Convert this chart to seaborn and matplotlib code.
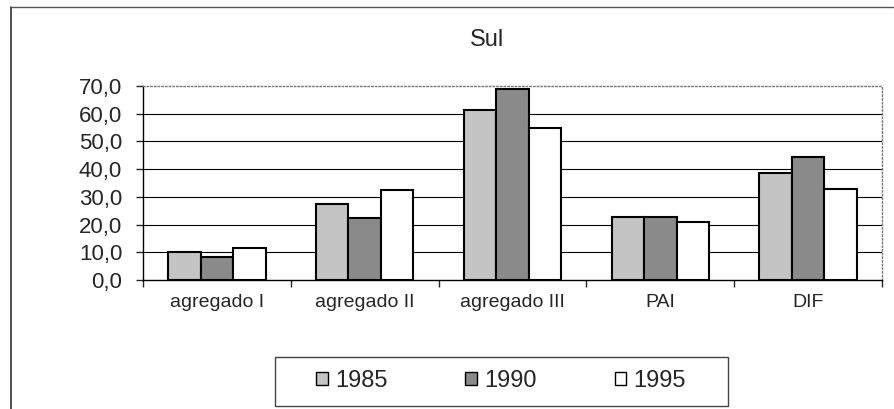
import pandas as pd
import seaborn as sns
import matplotlib.pyplot as plt
from matplotlib.lines import Line2D
from matplotlib.patches import Patch, Rectangle
from matplotlib.ticker import FuncFormatter, FixedLocator

# data
categories = ['agregado I', 'agregado II', 'agregado III', 'PAI', 'DIF']
years = ['1985', '1990', '1995']
v1985 = [10.0, 27.3, 61.3, 22.9, 38.5]
v1990 = [8.2, 22.5, 69.0, 22.9, 44.4]
v1995 = [11.6, 32.4, 54.9, 21.1, 32.8]
colors = ['#c4c4c4', '#8a8a8a', '#ffffff']

df = pd.DataFrame({
    'cat': categories * 3,
    'year': [y for y in years for _ in categories],
    'val': v1985 + v1990 + v1995,
})

sns.set_style('white')
plt.rcParams['font.family'] = ['Liberation Sans', 'DejaVu Sans']

fig = plt.figure(figsize=(8.95, 4.09), dpi=100)
ax = fig.add_axes([143 / 895, 1 - 280 / 409, 739 / 895, 194 / 409])

sns.barplot(data=df, x='cat', y='val', hue='year', order=categories,
            hue_order=years, palette=colors, edgecolor='black', linewidth=1.5,
            width=0.66, gap=0, ax=ax, legend=False, saturation=1)

ax.set_ylim(0, 70)
ax.set_xlim(-0.5, 4.5)
ax.set_yticks(range(0, 71, 10))
ax.yaxis.set_major_formatter(FuncFormatter(lambda v, p: f"{v:.1f}".replace('.', ',')))
ax.tick_params(axis='y', labelsize=16, length=5, direction='out', left=True, width=1, pad=10)
ax.tick_params(axis='x', which='major', labelsize=14, length=0, pad=10)
ax.xaxis.set_minor_locator(FixedLocator([-0.5, 0.5, 1.5, 2.5, 3.5, 4.5]))
ax.tick_params(axis='x', which='minor', length=5, direction='out', bottom=True, width=1)
ax.set_xlabel('')
ax.set_ylabel('')

for v in range(10, 70, 10):
    ax.axhline(v, color='black', lw=0.8, zorder=0)

ax.spines['left'].set_color('black')
ax.spines['bottom'].set_color('black')
ax.spines['left'].set_linewidth(1)
ax.spines['bottom'].set_linewidth(1)
for s in ['top', 'right']:
    ax.spines[s].set_color('#777777')
    ax.spines[s].set_linestyle(':')
    ax.spines[s].set_linewidth(1)

fig.text(487 / 895, 1 - 40 / 409, 'Sul', ha='center', va='center', fontsize=17)

# legend: items without frame, plus a separate box
handles = [Patch(facecolor=c, edgecolor='black', linewidth=1) for c in colors]
leg = fig.legend(handles, years, loc='center', ncol=3,
                 bbox_to_anchor=(501 / 895, 1 - 381 / 409),
                 bbox_transform=fig.transFigure, fontsize=17, frameon=False,
                 handlelength=0.5, handleheight=0.5, handletextpad=0.3,
                 columnspacing=3.3, borderpad=0)
fig.add_artist(Rectangle((275 / 895, 1 - 406 / 409), 453 / 895, 49 / 409,
                         transform=fig.transFigure, fill=False,
                         edgecolor='#444444', lw=1))

# outer chart frame
fig.add_artist(Line2D([11 / 895, 11 / 895], [0, 1 - 7 / 409], color='#333333', lw=1.2,
                      transform=fig.transFigure))
fig.add_artist(Line2D([11 / 895, 893 / 895], [1 - 7 / 409, 1 - 7 / 409], color='#555555', lw=1,
                      transform=fig.transFigure))

fig.savefig('out.png', dpi=100)
